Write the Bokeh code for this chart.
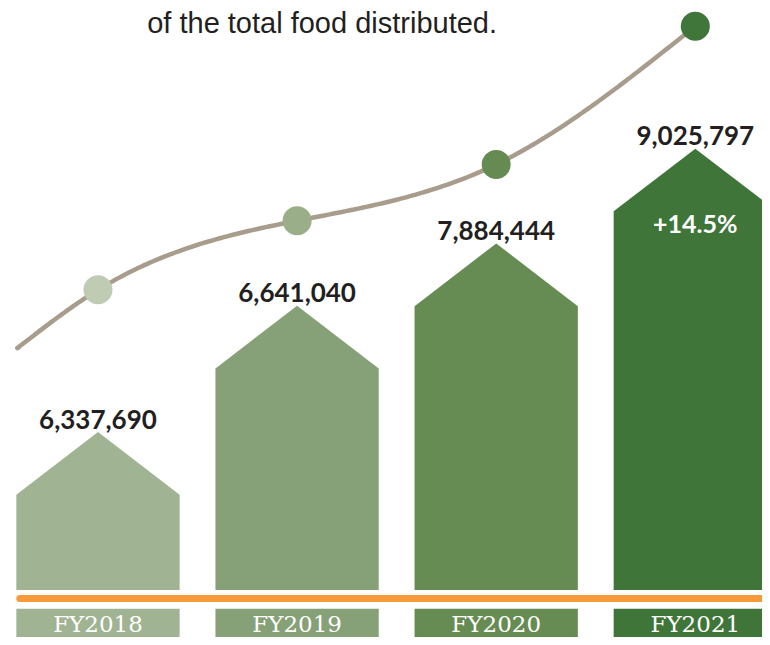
import numpy as np
from bokeh.plotting import figure
from bokeh.models import Range1d
from bokeh.core.properties import value
from bokeh.embed import file_html
from bokeh.resources import INLINE

# ---- data ----
years = ["FY2018", "FY2019", "FY2020", "FY2021"]
food_distributed = [6337690, 6641040, 7884444, 9025797]
house_heights = [160, 288, 351, 447]      # peak height of each house (display units)
trend_levels = [304, 374, 431, 571]       # trend curve level at each year (display units)
growth_label = "+14.5%"
caption = "of the total food distributed."

bar_colors = ["#a0b392", "#86a077", "#668b53", "#40753a"]
dot_colors = ["#bfcbb3", "#9aae89", "#658a52", "#40763a"]

# ---- layout constants ----
x0, step = 98.5, 201.2
half_w = 82.5
roof = 63.5
xs = [x0 + i * step for i in range(len(years))]

p = figure(width=762, height=637, output_backend="svg", toolbar_location=None,
           x_range=Range1d(0, 770), y_range=Range1d(-48, 597),
           min_border=0)
p.axis.visible = False
p.grid.visible = False
p.outline_line_color = None
p.background_fill_color = "white"
p.border_fill_color = "white"

# houses
hx, hy = [], []
for x, h in zip(xs, house_heights):
    hx.append([x - half_w, x - half_w, x, x + half_w, x + half_w])
    hy.append([0, h - roof, h, h - roof, 0])
p.patches(hx, hy, fill_color=bar_colors, line_color=None)

# label boxes
p.quad(left=[x - half_w for x in xs], right=[x + half_w for x in xs],
       top=-19, bottom=-60, fill_color=bar_colors, line_color=None)
p.text(x=xs, y=[-34] * 4, text=years, text_color="white",
       text_font=value("DejaVu Serif"), text_font_size="23px",
       text_align="center", text_baseline="middle")

# orange baseline
p.line([xs[0] - half_w + 3.5, 800], [-8.5, -8.5], line_color="#f79a3a",
       line_width=7, line_cap="round")

# value labels
p.text(x=xs, y=[h + 13 for h in house_heights], text=[f"{v:,}" for v in food_distributed],
       text_color="#231f20", text_font=value("Lato"), text_font_style="bold",
       text_font_size="26px", text_align="center", text_baseline="alphabetic")

p.text(x=[xs[-1]], y=[372], text=[growth_label], text_color="white",
       text_font=value("Lato"), text_font_style="bold", text_font_size="25px",
       text_align="center", text_baseline="middle")

# trend curve: natural cubic spline through the trend points, with a short lead-in
lead_dx, lead_dy = -81.5, -59
kx = np.array([xs[0] + lead_dx] + xs, dtype=float)
ky = np.array([trend_levels[0] + lead_dy] + trend_levels, dtype=float)
n = len(kx)
hh = np.diff(kx)
A = np.zeros((n, n)); b = np.zeros(n)
A[0, 0] = 1; A[-1, -1] = 1
for i in range(1, n - 1):
    A[i, i - 1] = hh[i - 1]; A[i, i] = 2 * (hh[i - 1] + hh[i]); A[i, i + 1] = hh[i]
    b[i] = 6 * ((ky[i + 1] - ky[i]) / hh[i] - (ky[i] - ky[i - 1]) / hh[i - 1])
M = np.linalg.solve(A, b)
cx, cy = [], []
for i in range(n - 1):
    xx = np.linspace(kx[i], kx[i + 1], 50)
    h = hh[i]
    s = (M[i] * (kx[i + 1] - xx) ** 3 / (6 * h) + M[i + 1] * (xx - kx[i]) ** 3 / (6 * h)
         + (ky[i] / h - M[i] * h / 6) * (kx[i + 1] - xx)
         + (ky[i + 1] / h - M[i + 1] * h / 6) * (xx - kx[i]))
    cx.extend(xx); cy.extend(s)
p.line(cx, cy, line_color="#a89c8c", line_width=4.5, line_cap="round")

p.scatter(x=xs, y=trend_levels, size=29, fill_color=dot_colors, line_color=None)

# caption
p.text(x=[325], y=[574], text=[caption], text_color="#231f20",
       text_font=value("Liberation Sans"), text_font_size="29px",
       text_align="center", text_baseline="alphabetic")

open("out.html", "w").write(file_html(p, INLINE))
